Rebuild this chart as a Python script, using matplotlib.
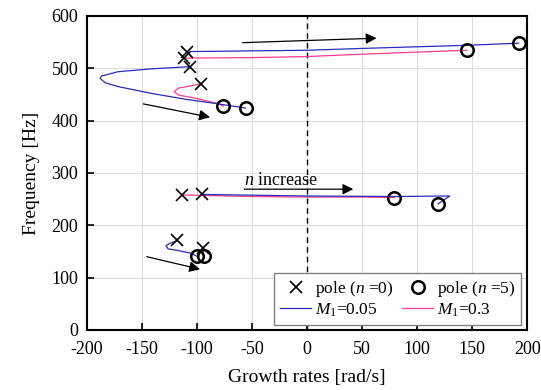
import numpy as np
import matplotlib
matplotlib.use('Agg')
import matplotlib.pyplot as plt
from matplotlib.lines import Line2D

plt.rcParams['font.family'] = ['Liberation Serif', 'DejaVu Serif']
plt.rcParams['mathtext.fontset'] = 'custom'
plt.rcParams['mathtext.rm'] = 'Liberation Serif'
plt.rcParams['mathtext.it'] = 'Liberation Serif:italic'
plt.rcParams['axes.unicode_minus'] = False

# 极点 (n=0) 与 (n=5)
pole0_x = [-109, -112, -106, -96, -113, -95.6, -118.2, -94.7]
pole0_y = [532, 519.5, 502, 470, 258, 259, 172, 156]
pole5_x = [-76, -55.7, 145, 192.4, 79, 118.4, -100, -93.5]
pole5_y = [428, 423.7, 534.5, 548, 252.8, 240, 140.6, 141.9]

# M1 = 0.05 的轨迹
blue_tracks = [
    ([-106, 0, 50, 145, 192], [532, 534.5, 538, 544, 548]),
    ([-107.7, -140.9, -171.2, -186.2, -187.8, -183.2, -171.2, -140.9, -110.7, -83.5, -56],
     [503, 499, 493.6, 485.4, 481, 472.6, 465, 452, 441, 433, 424]),
    ([-96, 0, 80, 129.5, 119], [259, 256, 255, 256, 241]),
    ([-118, -124, -128, -126, -115, -105, -100], [170, 166, 161, 155, 151, 146.5, 141]),
]
# M1 = 0.3 的轨迹
pink_tracks = [
    ([-110, -50, 0, 50, 100, 145], [519.5, 520.5, 522.5, 527, 531, 534.5]),
    ([-97, -101.6, -116.8, -120.4, -116.8, -101.6, -83.5, -76],
     [470, 468, 462, 455.6, 449, 443, 434, 428]),
    ([-113, -50, 0, 50, 79], [258, 255, 254, 254, 253]),
    ([-94.7, -97, -93.5], [156, 149, 142]),
]

# 箭头 (起点, 终点)
arrows = [
    ((-58.4, 549), (63.1, 557.6)),
    ((-148.5, 432), (-88, 406.5)),
    ((-57, 269), (42, 269)),
    ((-145.4, 140), (-97, 116)),
]

blue = '#2b2bbd'
pink = '#ff3d8f'

fig = plt.figure(figsize=(5.41, 3.90), dpi=100)
ax = fig.add_axes([0.16, 0.154, 0.815, 0.805])
ax.set_axisbelow(True)

ax.grid(True, color='#dcdcdc', lw=0.8)
ax.axvline(0, color='k', lw=1.0, ls=(0, (4, 3)), zorder=2)

for xs, ys in blue_tracks:
    ax.plot(xs, ys, color=blue, lw=0.9, zorder=3)
for xs, ys in pink_tracks:
    ax.plot(xs, ys, color=pink, lw=0.9, zorder=2.5)

ax.plot(pole0_x, pole0_y, 'x', color='k', ms=9, mew=1.2, ls='none', zorder=4)
ax.plot(pole5_x, pole5_y, 'o', mfc='none', mec='k', ms=9, mew=1.8, ls='none', zorder=4)

for (x0, y0), (x1, y1) in arrows:
    ax.annotate('', xy=(x1, y1), xytext=(x0, y0),
                arrowprops=dict(arrowstyle='-|>', color='k', lw=0.9,
                                mutation_scale=16, shrinkA=0, shrinkB=0))

ax.text(-57, 277, r'$n$ increase', fontsize=13, ha='left', va='baseline')

ax.set_xlim(-200, 200)
ax.set_ylim(0, 600)
ax.set_xticks(np.arange(-200, 201, 50))
ax.set_yticks(np.arange(0, 601, 100))
ax.tick_params(direction='in', length=5, width=1.2, labelsize=13)
ax.tick_params(axis='x', pad=8)
ax.tick_params(axis='y', pad=6)
for s in ax.spines.values():
    s.set_linewidth(1.5)

ax.set_xlabel('Growth rates [rad/s]', fontsize=14, labelpad=8)
ax.set_ylabel('Frequency [Hz]', fontsize=14, labelpad=8)

handles = [
    Line2D([], [], marker='x', color='k', ls='none', ms=9, mew=1.2),
    Line2D([], [], color=blue, lw=0.9),
    Line2D([], [], marker='o', mfc='none', mec='k', ls='none', ms=9, mew=1.8),
    Line2D([], [], color=pink, lw=0.9),
]
labels = [r'pole ($n$ =0)', r'$M_1$=0.05', r'pole ($n$ =5)', r'$M_1$=0.3']
leg = ax.legend(handles, labels, ncol=2, loc='lower right', bbox_to_anchor=(0.986, 0.016),
                borderaxespad=0, fontsize=12.5, fancybox=False, edgecolor='#808080',
                framealpha=1, handlelength=1.8, columnspacing=0.5, handletextpad=0.2,
                labelspacing=0.15, borderpad=0.35)
leg.get_frame().set_linewidth(1.0)

fig.savefig('out.png', dpi=100)
